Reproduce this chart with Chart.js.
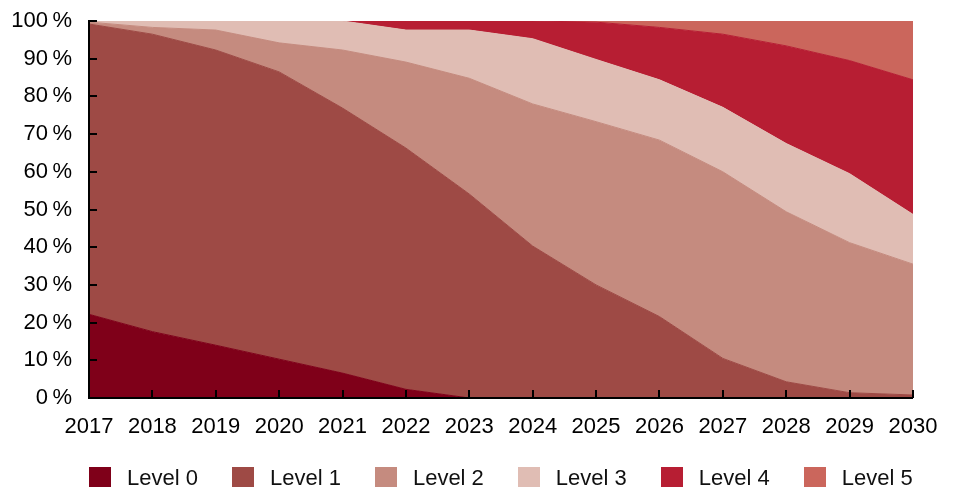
<!DOCTYPE html>
<html>
<head>
<meta charset="utf-8">
<script src="https://cdn.jsdelivr.net/npm/chart.js@4/dist/chart.umd.min.js"></script>
<style>
  html, body { margin: 0; padding: 0; background: #fff; }
  #wrap { position: relative; width: 955px; height: 487px; }
  #legend { position: absolute; left: 89px; top: 465px; display: flex; align-items: center;
            font-family: "Liberation Sans", Arial, sans-serif; font-size: 22px; color: #111; }
  .item { display: flex; align-items: center; margin-right: 34px; }
  .box { width: 22px; height: 22px; margin-right: 16px; }
</style>
</head>
<body>
<div id="wrap">
  <canvas id="c" width="955" height="487"></canvas>
  <div id="legend"></div>
</div>
<script>
const years = ['2017','2018','2019','2020','2021','2022','2023','2024','2025','2026','2027','2028','2029','2030'];
const seriesNames = ['Level 0','Level 1','Level 2','Level 3','Level 4','Level 5'];
const level0 = [22.2, 17.6, 14.0, 10.3, 6.6, 2.3, 0, 0, 0, 0, 0, 0, 0, 0];
const level1 = [77.0, 78.9, 78.3, 76.2, 70.3, 64.0, 54.1, 40.3, 30.0, 21.6, 10.5, 4.3, 1.4, 0.8];
const level2 = [0.5, 1.8, 5.3, 7.7, 15.4, 22.8, 30.7, 37.7, 43.3, 46.8, 49.5, 45.1, 39.8, 34.7];
const level3 = [0.3, 1.7, 2.4, 5.8, 7.7, 8.5, 12.8, 17.3, 16.5, 16.0, 17.1, 18.1, 18.3, 13.2];
const level4 = [0, 0, 0, 0, 0, 2.4, 2.4, 4.7, 9.9, 13.9, 19.4, 25.9, 30.0, 35.7];
const level5 = [0, 0, 0, 0, 0, 0, 0, 0, 0.3, 1.7, 3.5, 6.6, 10.5, 15.6];
const colors = ['#7f0019', '#9e4a45', '#c58b7f', '#e0bdb4', '#b71e33', '#cb665c'];
const yTicks = [0,10,20,30,40,50,60,70,80,90,100];

const allSeries = [level0, level1, level2, level3, level4, level5];
const datasets = allSeries.map((d, i) => ({
  label: seriesNames[i],
  data: d,
  backgroundColor: colors[i],
  borderColor: colors[i],
  borderWidth: 1,
  pointRadius: 0,
  tension: 0,
  fill: i === 0 ? 'origin' : '-1'
}));

const FONT = { family: '"Liberation Sans", Arial, sans-serif', size: 22 };

const axisPlugin = {
  id: 'axisPlugin',
  afterDatasetsDraw(chart) {
    const { ctx, chartArea: a, scales: { x, y } } = chart;
    ctx.save();
    ctx.strokeStyle = '#000';
    ctx.lineWidth = 2;
    ctx.beginPath();
    ctx.moveTo(a.left, a.top - 1);
    ctx.lineTo(a.left, a.bottom);
    ctx.lineTo(a.right, a.bottom);
    ctx.stroke();
    ctx.beginPath();
    y.ticks.forEach(t => {
      const py = Math.round(y.getPixelForValue(t.value));
      ctx.moveTo(a.left, py);
      ctx.lineTo(a.left + 8, py);
    });
    x.ticks.forEach((t, i) => {
      const px = Math.round(x.getPixelForValue(i));
      ctx.moveTo(px, a.bottom);
      ctx.lineTo(px, a.bottom - 8);
    });
    ctx.stroke();
    ctx.restore();
  }
};

new Chart(document.getElementById('c'), {
  type: 'line',
  data: { labels: years, datasets },
  plugins: [axisPlugin],
  options: {
    responsive: false,
    animation: false,
    layout: { padding: { left: 0, right: 42, top: 21, bottom: 0 } },
    plugins: { legend: { display: false }, tooltip: { enabled: false } },
    scales: {
      x: {
        offset: false,
        grid: { display: false, drawTicks: false },
        border: { display: false },
        ticks: { color: '#000', font: FONT, padding: 16, maxRotation: 0, autoSkip: false },
        afterFit(s) { s.height = 89; s.paddingLeft = 0; s.paddingRight = 0; }
      },
      y: {
        stacked: true,
        min: 0, max: 100,
        grid: { display: false, drawTicks: false },
        border: { display: false },
        afterBuildTicks(s) { s.ticks = yTicks.map(v => ({ value: v })); },
        ticks: { color: '#000', font: FONT, padding: 17, callback: v => v + '\u2009%' },
        afterFit(s) { s.width = 89; s.paddingTop = 0; s.paddingBottom = 0; }
      }
    }
  }
});

const lg = document.getElementById('legend');
seriesNames.forEach((n, i) => {
  const it = document.createElement('div');
  it.className = 'item';
  const b = document.createElement('div');
  b.className = 'box';
  b.style.background = colors[i];
  const t = document.createElement('span');
  t.textContent = n;
  it.appendChild(b); it.appendChild(t);
  lg.appendChild(it);
});
</script>
</body>
</html>
